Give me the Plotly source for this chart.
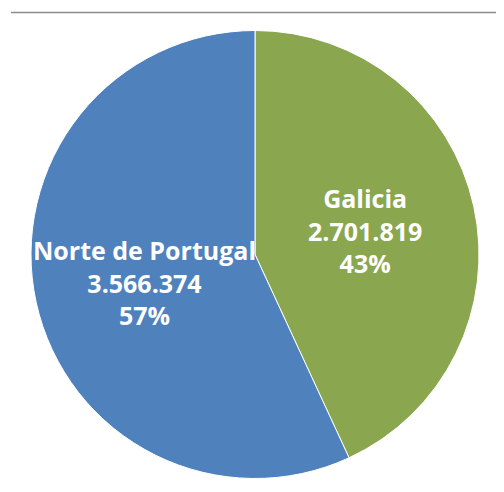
import plotly.graph_objects as go

# Datos
regiones = ['Galicia', 'Norte de Portugal']
poblacion = [2701819, 3566374]
colores = ['#8AA64F', '#4F81BD']

# la pagina tiene 8px de margen en el body
OFF = 8
W, H = 504 - OFF, 492 - OFF

# posicion de las etiquetas (px en la imagen original), como las pone Excel
pos_etiquetas = [(365, 230), (144, 282)]

fig = go.Figure()

fig.add_trace(go.Pie(labels=regiones, values=poblacion,
                     sort=False, direction='clockwise', rotation=0,
                     marker=dict(colors=colores, line=dict(color='white', width=1)),
                     textinfo='none',
                     hoverinfo='label+value+percent',
                     showlegend=False,
                     domain=dict(x=[(31 - OFF) / W, (479 - OFF) / W],
                                 y=[1 - (478.5 - OFF) / H, 1 - (30.5 - OFF) / H])))

total = sum(poblacion)
for reg, val, (px, py) in zip(regiones, poblacion, pos_etiquetas):
    valor = f'{val:,}'.replace(',', '.')
    pct = round(val / total * 100)
    fig.add_annotation(x=(px - OFF) / W, y=1 - (py - OFF) / H,
                       xref='paper', yref='paper',
                       xanchor='center', yanchor='middle',
                       text=f'<b>{reg}</b><br><b>{valor}</b><br><b>{pct}%</b>',
                       showarrow=False,
                       font=dict(family='Open Sans', size=25, color='white'))

# Linea gris superior
fig.add_shape(type='line', xref='paper', yref='paper',
              x0=(11 - OFF) / W, x1=1, y0=1 - (12.5 - OFF) / H, y1=1 - (12.5 - OFF) / H,
              line=dict(color='#8c8c8c', width=1.5))

fig.update_layout(width=W, height=H,
                  margin=dict(l=0, r=0, t=0, b=0),
                  paper_bgcolor='white',
                  plot_bgcolor='white')

fig.write_html("out.html")
